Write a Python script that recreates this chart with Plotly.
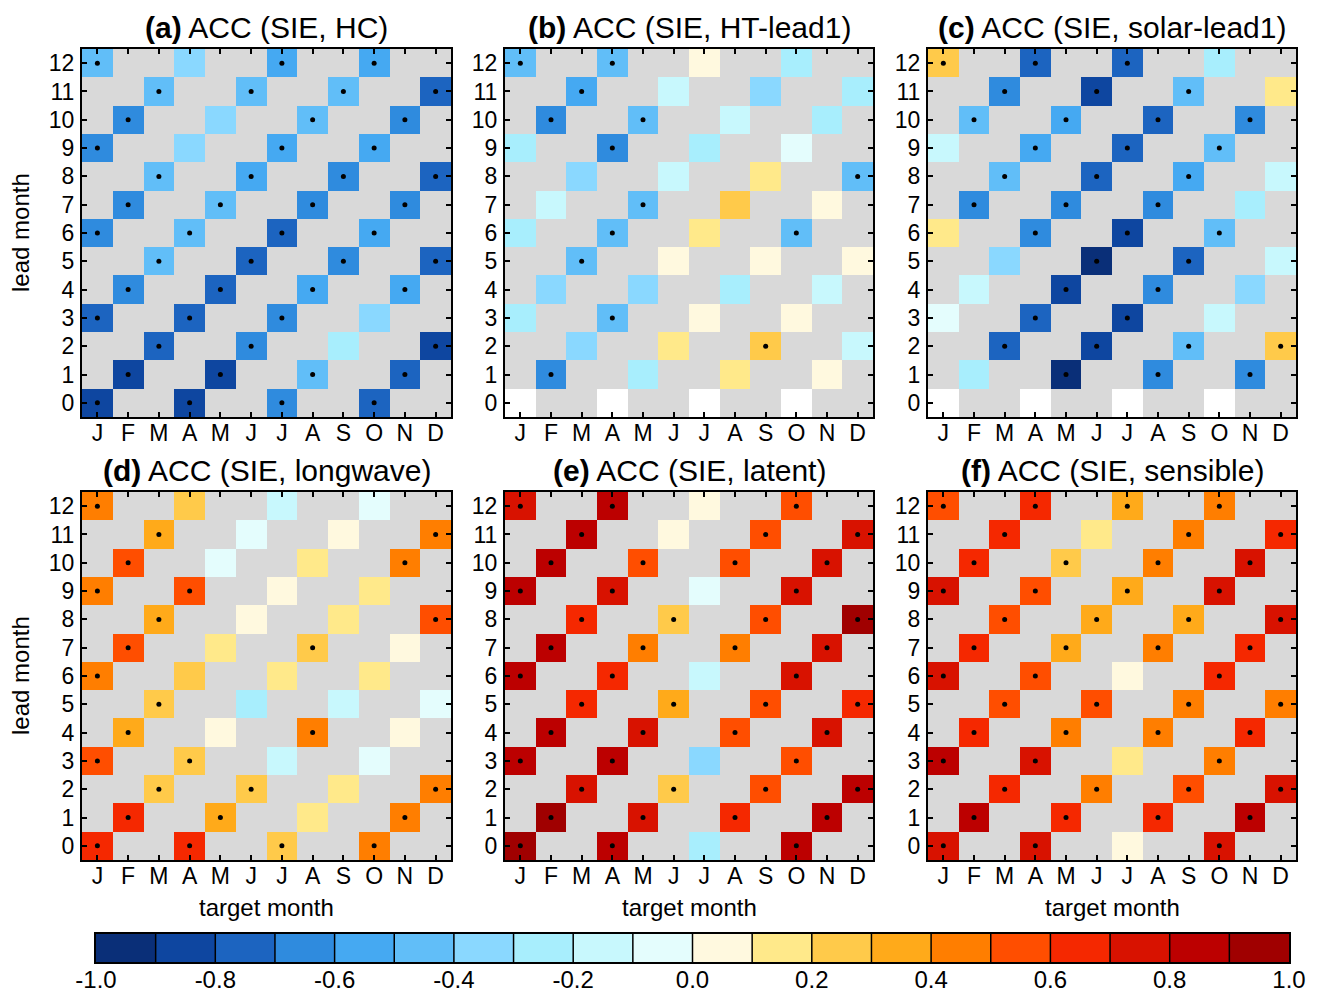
import numpy as np
import plotly.graph_objects as go

W, H = 1320, 992
FONT = "Liberation Sans"

months = ["J", "F", "M", "A", "M", "J", "J", "A", "S", "O", "N", "D"]
leads = list(range(13))

# ACC values per lead month (rows 0..12); each row lists the 4 target months
# whose index is congruent to the lead month modulo 3.
acc_hc = [
    [-0.85, -0.85, -0.65, -0.75], [-0.85, -0.85, -0.45, -0.75], [-0.75, -0.65, -0.25, -0.85],
    [-0.75, -0.75, -0.65, -0.35], [-0.65, -0.75, -0.55, -0.55], [-0.45, -0.75, -0.65, -0.75],
    [-0.65, -0.45, -0.75, -0.55], [-0.65, -0.45, -0.65, -0.65], [-0.45, -0.55, -0.65, -0.75],
    [-0.65, -0.35, -0.55, -0.55], [-0.65, -0.35, -0.45, -0.65], [-0.45, -0.45, -0.45, -0.75],
    [-0.45, -0.35, -0.55, -0.55]]
sig_hc = [
    [1, 1, 1, 1], [1, 1, 1, 1], [1, 1, 0, 1], [1, 1, 1, 0], [1, 1, 1, 1], [1, 1, 1, 1], [1, 1, 1, 1],
    [1, 1, 1, 1], [1, 1, 1, 1], [1, 0, 1, 1], [1, 0, 1, 1], [1, 1, 1, 1], [1, 0, 1, 1]]

acc_ht = [
    [None, None, None, None], [-0.65, -0.25, 0.15, 0.05], [-0.35, 0.15, 0.25, -0.15],
    [-0.25, -0.45, 0.05, 0.05], [-0.35, -0.35, -0.25, -0.15], [-0.45, 0.05, 0.05, 0.05],
    [-0.25, -0.45, 0.15, -0.45], [-0.15, -0.45, 0.25, 0.05], [-0.35, -0.15, 0.15, -0.45],
    [-0.25, -0.65, -0.25, -0.05], [-0.65, -0.45, -0.15, -0.25], [-0.55, -0.15, -0.35, -0.25],
    [-0.45, -0.45, 0.05, -0.25]]
sig_ht = [
    [0, 0, 0, 0], [1, 0, 0, 0], [0, 0, 1, 0], [0, 1, 0, 0], [0, 0, 0, 0], [1, 0, 0, 0], [0, 1, 0, 1],
    [0, 1, 0, 0], [0, 0, 0, 1], [0, 1, 0, 0], [1, 1, 0, 0], [1, 0, 0, 0], [1, 1, 0, 0]]

acc_solar = [
    [None, None, None, None], [-0.25, -0.95, -0.65, -0.65], [-0.75, -0.85, -0.45, 0.25],
    [-0.05, -0.75, -0.85, -0.15], [-0.15, -0.85, -0.65, -0.35], [-0.35, -0.95, -0.75, -0.15],
    [0.15, -0.65, -0.85, -0.45], [-0.65, -0.65, -0.65, -0.25], [-0.45, -0.75, -0.55, -0.15],
    [-0.15, -0.55, -0.75, -0.45], [-0.45, -0.55, -0.75, -0.65], [-0.65, -0.85, -0.45, 0.15],
    [0.25, -0.75, -0.75, -0.25]]
sig_solar = [
    [0, 0, 0, 0], [0, 1, 1, 1], [1, 1, 1, 1], [0, 1, 1, 0], [0, 1, 1, 0], [0, 1, 1, 0], [0, 1, 1, 1],
    [1, 1, 1, 0], [1, 1, 1, 0], [0, 1, 1, 1], [1, 1, 1, 1], [1, 1, 1, 0], [1, 1, 1, 0]]

acc_lw = [
    [0.65, 0.65, 0.25, 0.45], [0.65, 0.35, 0.15, 0.45], [0.25, 0.25, 0.15, 0.45],
    [0.55, 0.25, -0.15, -0.05], [0.35, 0.05, 0.45, 0.05], [0.25, -0.25, -0.15, -0.05],
    [0.45, 0.25, 0.15, 0.15], [0.55, 0.15, 0.25, 0.05], [0.35, 0.05, 0.15, 0.55],
    [0.45, 0.55, 0.05, 0.15], [0.55, -0.05, 0.15, 0.45], [0.35, -0.05, 0.05, 0.45],
    [0.45, 0.25, -0.15, -0.05]]
sig_lw = [
    [1, 1, 1, 1], [1, 1, 0, 1], [1, 1, 0, 1], [1, 1, 0, 0], [1, 0, 1, 0], [1, 0, 0, 0], [1, 0, 0, 0],
    [1, 0, 1, 0], [1, 0, 0, 1], [1, 1, 0, 0], [1, 0, 0, 1], [1, 0, 0, 1], [1, 0, 0, 0]]

acc_lat = [
    [0.95, 0.85, -0.25, 0.85], [0.95, 0.75, 0.65, 0.85], [0.75, 0.25, 0.55, 0.85],
    [0.85, 0.85, -0.35, 0.55], [0.85, 0.75, 0.55, 0.75], [0.65, 0.35, 0.55, 0.65],
    [0.85, 0.65, -0.15, 0.75], [0.85, 0.45, 0.45, 0.75], [0.65, 0.25, 0.55, 0.95],
    [0.85, 0.75, -0.05, 0.75], [0.85, 0.55, 0.55, 0.75], [0.85, 0.05, 0.55, 0.75],
    [0.75, 0.85, 0.05, 0.55]]
sig_lat = [
    [1, 1, 0, 1], [1, 1, 1, 1], [1, 1, 1, 1], [1, 1, 0, 1], [1, 1, 1, 1], [1, 1, 1, 1], [1, 1, 0, 1],
    [1, 1, 1, 1], [1, 1, 1, 1], [1, 1, 0, 1], [1, 1, 1, 1], [1, 0, 1, 1], [1, 1, 0, 1]]

acc_sen = [
    [0.75, 0.75, 0.05, 0.75], [0.85, 0.65, 0.65, 0.85], [0.65, 0.45, 0.55, 0.75],
    [0.85, 0.75, 0.15, 0.45], [0.65, 0.45, 0.45, 0.65], [0.55, 0.55, 0.45, 0.45],
    [0.75, 0.55, 0.05, 0.65], [0.65, 0.35, 0.45, 0.65], [0.55, 0.35, 0.35, 0.75],
    [0.75, 0.55, 0.35, 0.75], [0.65, 0.25, 0.45, 0.75], [0.65, 0.15, 0.45, 0.65],
    [0.55, 0.65, 0.35, 0.45]]
sig_sen = [
    [1, 1, 0, 1], [1, 1, 1, 1], [1, 1, 1, 1], [1, 1, 0, 1], [1, 1, 1, 1], [1, 1, 1, 1], [1, 1, 0, 1],
    [1, 1, 1, 1], [1, 1, 1, 1], [1, 1, 1, 1], [1, 1, 1, 1], [1, 0, 1, 1], [1, 1, 1, 1]]

titles = ["<b>(a)</b> ACC (SIE, HC)", "<b>(b)</b> ACC (SIE, HT-lead1)",
          "<b>(c)</b> ACC (SIE, solar-lead1)", "<b>(d)</b> ACC (SIE, longwave)",
          "<b>(e)</b> ACC (SIE, latent)", "<b>(f)</b> ACC (SIE, sensible)"]
panel_acc = [acc_hc, acc_ht, acc_solar, acc_lw, acc_lat, acc_sen]
panel_sig = [sig_hc, sig_ht, sig_solar, sig_lw, sig_lat, sig_sen]
panel_nodata_lead0 = [False, True, True, False, False, False]

colors = ["#0A2F78", "#0E46A0", "#1C64C0", "#2F8BDE", "#45A9F2", "#61BEF8", "#8AD8FF",
          "#A8EEFD", "#C8F8FD", "#E4FDFD", "#FFF9DF", "#FFE98A", "#FFCA4A", "#FFAA1A",
          "#FF7E00", "#FF4E00", "#F52800", "#D81200", "#BC0000", "#A00000"]
nb = len(colors)
cscale = []
for i, c in enumerate(colors):
    cscale.append([i / nb, c])
    cscale.append([(i + 1) / nb, c])
levels = np.linspace(-1, 1, nb + 1)
centers = (levels[:-1] + levels[1:]) / 2

def px_x(p):
    return p / W

def px_y(p):
    return 1 - p / H

col_px = [(82, 451), (505, 873), (928, 1296)]
row_px = [(49, 417), (492, 860)]

fig = go.Figure()
layout = dict(width=W, height=H, margin=dict(l=0, r=0, t=0, b=0, autoexpand=False),
              paper_bgcolor="white", plot_bgcolor="#D9D9D9", showlegend=False,
              template="none",
              font=dict(family=FONT, color="black"))
annotations = []

for k in range(6):
    r, c = divmod(k, 3)
    n = k + 1
    xs = "x" if n == 1 else f"x{n}"
    ys = "y" if n == 1 else f"y{n}"
    z = np.full((13, 12), np.nan)
    missing = np.full((13, 12), np.nan)
    dx, dy = [], []
    for lead in leads:
        cols = [lead % 3 + 3 * j for j in range(4)]
        for j, col in enumerate(cols):
            v = panel_acc[k][lead][j]
            if v is None:
                if panel_nodata_lead0[k]:
                    missing[lead, col] = 1
                continue
            z[lead, col] = v
            if panel_sig[k][lead][j]:
                dx.append(col)
                dy.append(lead)
    fig.add_trace(go.Heatmap(z=z, x=list(range(12)), y=leads, colorscale=cscale,
                             zmin=-1, zmax=1, showscale=False, xaxis=xs, yaxis=ys,
                             hoverongaps=False))
    if panel_nodata_lead0[k]:
        fig.add_trace(go.Heatmap(z=missing, x=list(range(12)), y=leads,
                                 colorscale=[[0, "white"], [1, "white"]], showscale=False,
                                 xaxis=xs, yaxis=ys, hoverongaps=False))
    fig.add_trace(go.Scatter(x=dx, y=dy, mode="markers", xaxis=xs, yaxis=ys,
                             marker=dict(color="black", size=5)))
    x0, x1 = col_px[c]
    y0, y1 = row_px[r]
    ax_common = dict(ticks="inside", ticklen=5, tickwidth=1.5, tickcolor="black",
                     showline=True, linecolor="black", linewidth=2, mirror="ticks",
                     showgrid=False, zeroline=False, automargin=False,
                     tickfont=dict(family=FONT, size=23, color="black"))
    layout["xaxis" if n == 1 else f"xaxis{n}"] = dict(
        domain=[px_x(x0), px_x(x1)], range=[-0.5, 11.5], tickvals=list(range(12)),
        ticktext=months, anchor=ys, ticklabelstandoff=-6, **ax_common)
    layout["yaxis" if n == 1 else f"yaxis{n}"] = dict(
        domain=[px_y(y1), px_y(y0)], range=[-0.5, 12.5], tickvals=leads,
        ticktext=[str(v) for v in leads], anchor=xs, ticklabelstandoff=1, **ax_common)
    annotations.append(dict(text=titles[k], x=px_x((x0 + x1) / 2), y=px_y(y0 - 22),
                            xref="paper", yref="paper", showarrow=False,
                            xanchor="center", yanchor="middle",
                            font=dict(family=FONT, size=30, color="black")))
    if c == 0:
        annotations.append(dict(text="lead month", x=px_x(20), y=px_y((y0 + y1) / 2),
                                xref="paper", yref="paper", showarrow=False, textangle=-90,
                                xanchor="center", yanchor="middle",
                                font=dict(family=FONT, size=24, color="black")))
    if r == 1:
        annotations.append(dict(text="target month", x=px_x((x0 + x1) / 2), y=px_y(907),
                                xref="paper", yref="paper", showarrow=False,
                                xanchor="center", yanchor="middle",
                                font=dict(family=FONT, size=24, color="black")))

# colour bar as its own axis
fig.add_trace(go.Heatmap(z=[list(centers)], x=list(centers), y=[0], colorscale=cscale,
                         zmin=-1, zmax=1, showscale=False, xaxis="x7", yaxis="y7"))
ex, ey = [], []
for e in levels[1:-1]:
    ex += [e, e, None]
    ey += [-0.5, 0.5, None]
fig.add_trace(go.Scatter(x=ex, y=ey, mode="lines", line=dict(color="black", width=1.5),
                         xaxis="x7", yaxis="y7"))
cb_ticks = np.round(np.linspace(-1, 1, 11), 1)
layout["xaxis7"] = dict(domain=[px_x(96), px_x(1289)], range=[-1, 1], anchor="y7",
                        tickvals=list(cb_ticks), ticktext=[f"{v:.1f}" for v in cb_ticks],
                        ticks="", showline=True, linecolor="black", linewidth=2, mirror=True,
                        showgrid=False, zeroline=False, ticklabelstandoff=-5, automargin=False,
                        tickfont=dict(family=FONT, size=24, color="black"))
layout["yaxis7"] = dict(domain=[px_y(962), px_y(934)], range=[-0.5, 0.5], anchor="x7",
                        showticklabels=False, ticks="", showline=True, linecolor="black",
                        linewidth=2, mirror=True, showgrid=False, zeroline=False,
                        automargin=False)
layout["annotations"] = annotations
fig.update_layout(**layout)
fig.write_html("out.html")
